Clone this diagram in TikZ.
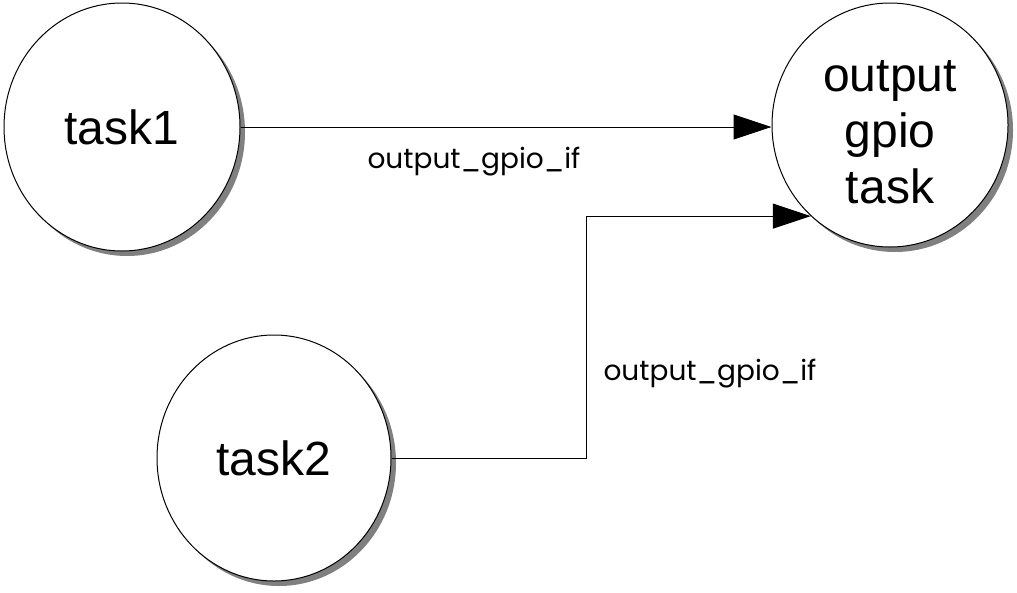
\documentclass[tikz,border=0pt]{standalone}
\usepackage{fontspec}
\setmainfont{Liberation Sans}
\newfontfamily\labelfont{Poppins}
\usetikzlibrary{arrows.meta,shapes.geometric,shadows}
\begin{document}
\begin{tikzpicture}[x=1pt,y=-1pt,
  task/.style={ellipse,draw=black,line width=1pt,fill=white,inner sep=0pt,
    drop shadow={shadow xshift=5pt,shadow yshift=-5pt,fill=black!50,opacity=1},
    font=\fontsize{48}{56}\selectfont,align=center},
  tasktext/.style={font=\fontsize{48}{56}\selectfont,align=center,inner sep=0pt},
  conn/.style={line width=1pt,-{Triangle[length=38pt,width=25pt]}},
  lbl/.style={font=\labelfont\fontsize{28}{32}\selectfont,inner sep=0pt}]
\useasboundingbox (0,0) rectangle (1017,592);
\node[task,minimum width=236pt,minimum height=248pt] (t1) at (122,127) {task1};
\node[task,minimum width=236pt,minimum height=244pt] (out) at (890,125) {};
\node[tasktext] (outtext) at ([yshift=-7pt]out.center) {output\\gpio\\task};
\node[task,minimum width=234pt,minimum height=246pt] (t2) at (274,458) {task2};
\draw[conn] (t1.east) -- (t1.east -| out.west);
\coordinate (bend) at (586,458);
\draw[conn] (t2.east) -- (bend) |- (out.229);
\node[lbl] (l1) at (474,162) {output\_gpio\_if};
\node[lbl] (l2) at (710,374) {output\_gpio\_if};
\end{tikzpicture}
\end{document}
